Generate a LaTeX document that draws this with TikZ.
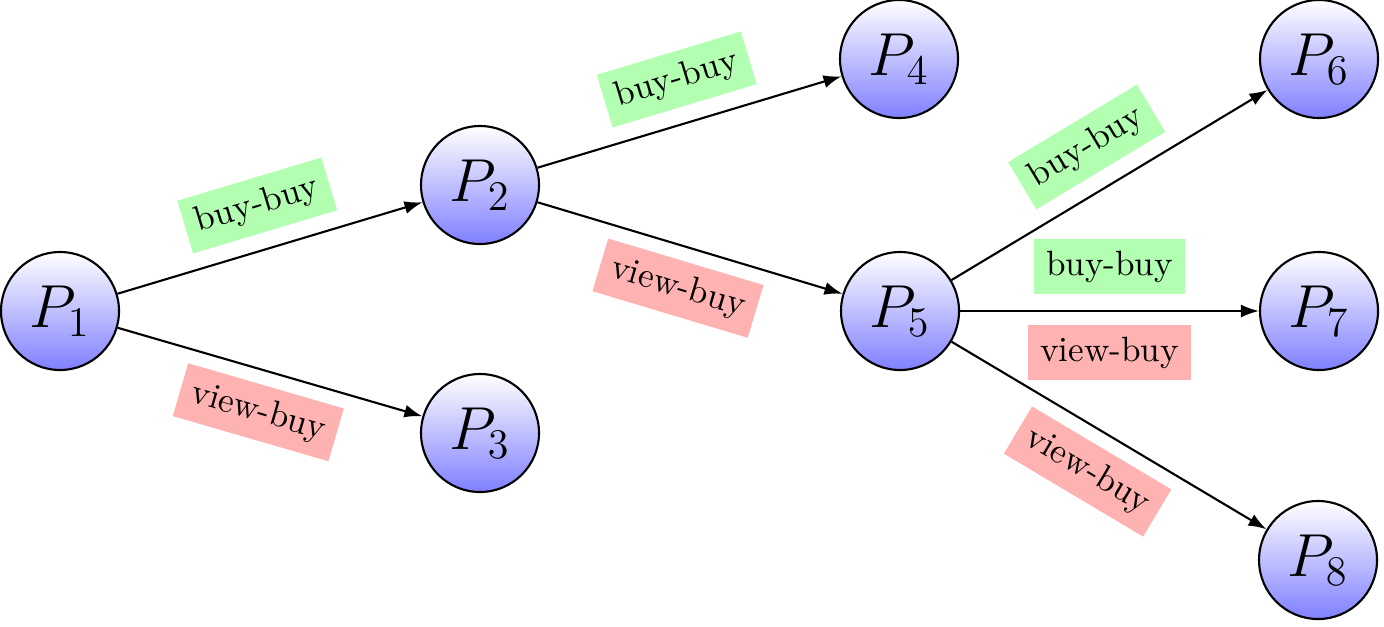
\documentclass[tikz,border=0pt]{standalone}
\usepackage{tikz}
\usetikzlibrary{arrows.meta}
\tikzset{
  pnode/.style={circle, draw=black, line width=0.6pt, top color=white, bottom color=blue!50, minimum size=11.8mm, inner sep=0pt, font=\LARGE},
  arrow/.style={-{Latex[length=1.8mm,width=1.3mm]}, line width=0.6pt},
  buylabel/.style={fill=green!30, sloped},
  viewlabel/.style={fill=red!30, sloped}
}
\begin{document}
\begin{tikzpicture}
\useasboundingbox (0,0) rectangle (13.84,-6.26);
\node[pnode] (p1) at (0.60,-3.11) {$P_1$};
\node[pnode] (p2) at (4.80,-1.85) {$P_2$};
\node[pnode] (p3) at (4.80,-4.33) {$P_3$};
\node[pnode] (p4) at (8.99,-0.59) {$P_4$};
\node[pnode] (p5) at (9.00,-3.11) {$P_5$};
\node[pnode] (p6) at (13.19,-0.59) {$P_6$};
\node[pnode] (p7) at (13.19,-3.11) {$P_7$};
\node[pnode] (p8) at (13.18,-5.60) {$P_8$};
\draw[arrow] (p1) -- node[buylabel, above=4.5pt] {buy-buy} (p2);
\draw[arrow] (p1) -- node[viewlabel, below=3.8pt] {view-buy} (p3);
\draw[arrow] (p2) -- node[buylabel, above=4.5pt] {buy-buy} (p4);
\draw[arrow] (p2) -- node[viewlabel, below=3.8pt] {view-buy} (p5);
\draw[arrow] (p5) -- node[buylabel, above=4.5pt] {buy-buy} (p6);
\draw[arrow] (p5) -- node[buylabel, above=4.5pt] {buy-buy}
                    node[viewlabel, below=3.8pt] {view-buy} (p7);
\draw[arrow] (p5) -- node[viewlabel, below=3.8pt] {view-buy} (p8);
\end{tikzpicture}
\end{document}
